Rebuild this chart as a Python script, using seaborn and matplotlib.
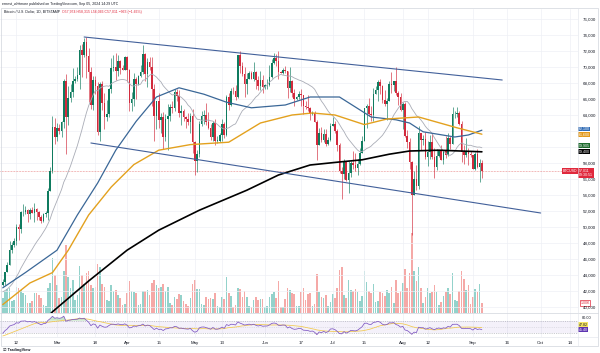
import numpy as np
import pandas as pd
import matplotlib
matplotlib.use("Agg")
import matplotlib.pyplot as plt
import matplotlib.dates as mdates
import matplotlib.transforms as mtransforms
from matplotlib.patches import Rectangle
from matplotlib.lines import Line2D
import seaborn as sns

sns.set_theme(style="white")
plt.rcParams['font.family'] = ['Liberation Sans', 'DejaVu Sans']

# ---------------- data (BTC/USD daily, Bitstamp) ----------------
warmup_close = [42740, 41260, 41620, 41680, 41570, 39530, 39850, 40080, 39940, 41820,
                42120, 42030, 43300, 42940, 42580, 43080, 43190, 43000, 42580, 42700]

feb_close = [43090, 44340, 45290, 47130, 47770, 48290, 49950, 49720, 51830, 51930, 52150, 51660,
             52120, 51780, 52270, 51850, 51300, 50740, 51570, 51730, 54480, 57060, 62500, 61200]
feb_high = [43490, 44380, 45600, 48200, 48150, 48590, 50350, 50370, 52040, 52820, 52570, 52200,
            52360, 52480, 52970, 52360, 52040, 51540, 51690, 51950, 54880, 57550, 63900, 63600]
feb_low = [42580, 42780, 44330, 45250, 46800, 47560, 47710, 48370, 49300, 51320, 51580, 50630,
           51010, 51710, 50620, 50840, 50930, 50540, 50590, 51300, 50900, 54450, 56700, 60400]

mar_close = [62420, 62050, 63140, 68300, 63800, 66100, 66900, 68300, 68500, 69000, 72100, 71480,
             73100, 71400, 69400, 65300, 68400, 67600, 61900, 67900, 65500, 63800, 64100, 67200,
             69900, 69980, 69450, 70780, 69900, 69660, 71300]
mar_high = [62980, 62900, 63230, 68500, 69170, 67600, 67900, 69900, 68900, 70000, 72800, 72900,
            73650, 73800, 72400, 70000, 68900, 68900, 68100, 68100, 68200, 66700, 65900, 67400,
            71100, 71500, 71700, 71500, 70900, 70300, 71350]
mar_low = [60800, 61600, 61300, 62400, 59100, 62800, 65600, 66200, 68000, 68200, 67200, 68800,
           71300, 68600, 65600, 64800, 64600, 66600, 61500, 60800, 64600, 62300, 63300, 63800,
           66700, 69500, 68400, 68900, 69100, 69600, 69600]

apr_close = [69650, 65480, 65980, 68500, 67840, 68900, 69360, 71620, 69140, 70580, 70060, 67190,
             63820, 65740, 63420, 63810, 61280, 63470, 63820, 64990, 64930, 66840, 66410, 64280,
             64500, 63770, 63460, 63120, 63860, 60640]
apr_high = [71400, 69700, 66900, 69300, 68700, 69000, 70300, 72700, 71700, 71100, 71250, 71200,
            67900, 65800, 66800, 64300, 64400, 64100, 65400, 65400, 65700, 67200, 67200, 67100,
            65300, 64800, 63900, 64300, 64200, 64700]
apr_low = [68100, 64500, 64500, 65100, 66000, 67800, 68800, 69100, 68200, 67500, 69600, 65100,
           60800, 62200, 62400, 61700, 59800, 60800, 59600, 63200, 64300, 64500, 65800, 63800,
           62800, 63300, 62400, 62800, 61800, 59200]

may_close = [58250, 59120, 62890, 63890, 64030, 63160, 62330, 61190, 63050, 60790, 60790, 61450,
             62900, 61550, 66270, 65230, 67050, 66940, 66270, 71450, 70140, 69120, 67930, 68520,
             69290, 68510, 69390, 68360, 67610, 68360, 67490]
may_high = [60800, 59600, 63300, 64500, 64650, 65500, 64400, 62900, 63250, 63450, 61400, 61800,
            63450, 63100, 66450, 66750, 67400, 67450, 67700, 71500, 71950, 70650, 70050, 69200,
            69550, 69500, 70600, 69550, 68900, 69500, 69000]
may_low = [56500, 56900, 58800, 62600, 62900, 62700, 62300, 60900, 60700, 60200, 60500, 60650,
           60800, 61150, 61350, 64600, 65100, 66650, 65900, 66100, 69200, 68900, 66300, 66600,
           68500, 68450, 68250, 67300, 67150, 67150, 66700]

jun_close = [67710, 67750, 68800, 70560, 71080, 70760, 69340, 69300, 69650, 69510, 67320, 68240,
             66750, 66010, 66190, 66640, 66490, 65150, 64960, 64830, 64100, 64250, 63180, 60280,
             61800, 60860, 61680, 60320, 60890, 62680]
jun_high = [67850, 68450, 70250, 71050, 71750, 71600, 71950, 69550, 69850, 70150, 69550, 69980,
            68400, 67300, 66400, 66950, 67250, 66100, 65700, 66450, 65050, 64500, 64500, 63350,
            62350, 62450, 62300, 62200, 61200, 63000]
jun_low = [67300, 67300, 67600, 68600, 70400, 70150, 68500, 69200, 69150, 69250, 66100, 66900,
           66300, 65100, 65900, 66000, 65100, 64100, 64700, 64500, 63400, 63950, 63150, 58400,
           60250, 60650, 60600, 60150, 60300, 60700]

jul_close = [62850, 62030, 60200, 57050, 56660, 58230, 55850, 56710, 58040, 57720, 57340, 57900,
             59230, 60790, 64870, 65100, 64100, 63990, 66680, 67150, 68170, 67580, 65930, 65370,
             65800, 67910, 67810, 68250, 66780, 66200, 64630]
jul_high = [63800, 63250, 62300, 60500, 57500, 58450, 58300, 58200, 58300, 59450, 59300, 58550,
            59850, 61400, 64900, 65400, 66100, 65100, 67400, 67650, 68350, 68450, 67800, 67100,
            66150, 68200, 69400, 68300, 70000, 66950, 66800]
jul_low = [62600, 61800, 59450, 56800, 53500, 56050, 55750, 54300, 56300, 57200, 57000, 56550,
           57800, 59250, 60700, 62400, 63900, 63250, 63300, 66600, 65800, 66600, 65450, 65100,
           63400, 65800, 66700, 67050, 66500, 65300, 64550]

aug_close = [65360, 61420, 60680, 58110, 54020, 56040, 55130, 61710, 60880, 60940, 58710, 59350,
             60600, 58740, 57560, 58880, 59490, 58430, 59480, 59000, 61160, 60380, 64090, 64180,
             64250, 62830, 59420, 59030, 59370, 59120, 58970]
aug_high = [65600, 65650, 62150, 61100, 58300, 57050, 57750, 62600, 61750, 61450, 61850, 60700,
            61550, 61750, 59850, 59800, 59650, 60250, 59600, 61400, 61800, 61400, 64950, 64500,
            65000, 64450, 63200, 60200, 61150, 59900, 59450]
aug_low = [62300, 61200, 59900, 57200, 49050, 53950, 54600, 54750, 59650, 60300, 58450, 57650,
           58500, 58450, 56150, 57100, 58800, 58400, 57850, 58600, 58900, 59800, 60350, 63600,
           63800, 62800, 58100, 57850, 58800, 57700, 58750]

sep_close = [57310, 59130, 57480, 57974, 57011]
sep_high = [59050, 59400, 59800, 58500, 58315]
sep_low = [57200, 57150, 57400, 55600, 56066]

# volume, thousands of BTC
feb_vol = [1.5, 2.2, 2.4, 2.5, 1.2, 1.3, 2.6, 2.5, 2.3, 2.0, 1.8, 1.0, 1.0, 1.2, 2.0, 2.0, 1.8, 1.5,
           0.8, 0.7, 2.5, 3.0, 5.5, 3.8]
mar_vol = [2.8, 1.5, 1.6, 4.2, 6.8, 3.6, 2.5, 3.3, 1.3, 1.8, 4.7, 3.8, 2.9, 4.0, 4.2, 2.8, 2.5, 2.6,
           4.9, 4.6, 2.9, 2.6, 1.3, 1.2, 2.8, 2.2, 2.3, 1.8, 1.5, 0.8, 0.9]
apr_vol = [2.0, 3.2, 2.2, 2.1, 2.0, 0.8, 0.9, 2.2, 2.2, 2.3, 1.8, 3.0, 3.3, 2.8, 2.5, 2.6, 2.9, 2.2,
           2.6, 1.0, 0.8, 1.6, 1.4, 1.9, 1.8, 1.2, 0.9, 0.7, 1.5, 2.9]
may_vol = [3.3, 2.4, 2.4, 0.9, 0.8, 1.6, 1.4, 1.5, 1.4, 2.0, 0.7, 0.6, 1.6, 1.4, 3.6, 2.0, 1.7, 0.6,
           0.8, 2.5, 2.4, 1.6, 2.2, 1.6, 0.7, 0.6, 1.3, 1.6, 1.3, 1.4, 1.4]
jun_vol = [0.6, 0.7, 1.6, 1.9, 2.1, 1.5, 3.2, 0.6, 0.6, 1.4, 2.5, 2.3, 2.0, 1.9, 0.7, 0.7, 2.1, 2.5,
           1.3, 1.9, 2.0, 0.7, 0.9, 3.9, 2.1, 1.6, 1.5, 1.8, 0.7, 1.1]
jul_vol = [1.9, 1.5, 2.5, 4.3, 4.6, 1.8, 1.5, 3.3, 2.3, 2.2, 2.4, 2.1, 1.2, 1.7, 4.2, 3.1, 2.2, 2.0,
           2.9, 1.1, 1.2, 2.1, 2.0, 1.7, 2.3, 2.0, 2.6, 1.0, 3.3, 2.0, 2.2]
aug_vol = [3.0, 4.4, 2.5, 4.0, 8.0, 4.2, 3.2, 4.6, 2.5, 1.0, 1.6, 2.5, 2.0, 2.1, 2.8, 2.1, 0.8, 1.1,
           1.7, 2.1, 2.5, 1.9, 4.0, 1.3, 1.2, 2.2, 4.2, 3.4, 2.3, 2.8, 0.9]
sep_vol = [1.6, 2.4, 2.1, 2.9, 1.0]

# moving averages
ma_blue_dates = ["2024-02-06", "2024-02-16", "2024-03-01", "2024-03-10", "2024-03-19", "2024-03-27",
                 "2024-04-05", "2024-04-14", "2024-04-24", "2024-05-05", "2024-05-15", "2024-05-26",
                 "2024-06-10", "2024-06-21", "2024-07-04", "2024-07-18", "2024-07-29", "2024-08-04",
                 "2024-08-10", "2024-08-24", "2024-08-30", "2024-09-05"]
ma_blue = [42400, 44300, 47100, 51500, 55500, 59600, 63200, 66250, 67400, 66600, 65600, 64900,
           65250, 66250, 66250, 63750, 63400, 63000, 61900, 61250, 61500, 62100]

ma_orange_dates = ["2024-02-06", "2024-02-18", "2024-02-28", "2024-03-06", "2024-03-15", "2024-03-25",
                   "2024-04-04", "2024-04-15", "2024-04-29", "2024-05-16", "2024-05-30", "2024-06-13",
                   "2024-06-22", "2024-07-02", "2024-07-15", "2024-07-25", "2024-08-08", "2024-08-25",
                   "2024-09-05"]
ma_orange = [40300, 43000, 44300, 47100, 51500, 55000, 57800, 59600, 60300, 60600, 63000, 64000,
             64250, 64000, 62800, 63500, 63750, 62400, 61600]

ma_black_dates = ["2024-02-18", "2024-02-28", "2024-03-15", "2024-04-01", "2024-04-15", "2024-05-03",
                  "2024-05-24", "2024-06-07", "2024-06-21", "2024-07-03", "2024-07-14", "2024-07-26",
                  "2024-08-04", "2024-08-17", "2024-09-05"]
ma_black = [36500, 39400, 43250, 47100, 49600, 52100, 54600, 56500, 57750, 58100, 58400, 59100,
            59500, 59600, 59400]

channel_top_dates = ["2024-03-13", "2024-09-14"]
channel_top = [73750, 68375]
channel_bot_dates = ["2024-03-16", "2024-10-01"]
channel_bot = [60500, 51750]

tick_dates = ["2024-02-12", "2024-03-01", "2024-03-18", "2024-04-01", "2024-04-15", "2024-05-01",
              "2024-05-13", "2024-06-01", "2024-06-17", "2024-07-01", "2024-07-15", "2024-08-01",
              "2024-08-12", "2024-09-01", "2024-09-16", "2024-10-01", "2024-10-14"]
tick_labels = ["12", "Mar", "18", "Apr", "15", "May", "13", "Jun", "17", "Jul", "15", "Aug",
               "12", "Sep", "16", "Oct", "14"]
price_ticks = list(range(40000, 76001, 2000))
price_ticks_hidden = [60000, 62000]   # covered by the indicator value boxes on the scale

rsi_labels = ["45.40", "47.82"]
title_main = "Bitcoin / U.S. Dollar, 1D, BITSTAMP"
title_ohlc = "O57,974 H58,315 L56,066 C57,011 \u2212963 (\u22121.66%)"
attribution = "ernest_whitmore published on TradingView.com, Sep 05, 2024 14:29 UTC"

# ---------------- assemble ----------------
close = np.array(feb_close + mar_close + apr_close + may_close + jun_close + jul_close + aug_close + sep_close, float)
high = np.array(feb_high + mar_high + apr_high + may_high + jun_high + jul_high + aug_high + sep_high, float)
low = np.array(feb_low + mar_low + apr_low + may_low + jun_low + jul_low + aug_low + sep_low, float)
vol = np.array(feb_vol + mar_vol + apr_vol + may_vol + jun_vol + jul_vol + aug_vol + sep_vol, float)
dates = pd.date_range("2024-02-06", periods=len(close), freq="D")
warm_dates = pd.date_range("2024-01-17", periods=len(warmup_close), freq="D")
all_close = pd.Series(warmup_close + list(close), index=warm_dates.append(dates), dtype=float)
opens = all_close.shift(1).loc[dates].values
xd = mdates.date2num(dates)

sma20 = all_close.rolling(20).mean().loc[dates]
delta = all_close.diff()
gain = delta.clip(lower=0).ewm(alpha=1 / 14, adjust=False).mean()
loss = (-delta.clip(upper=0)).ewm(alpha=1 / 14, adjust=False).mean()
rsi_all = 100 - 100 / (1 + gain / loss)
rsi = rsi_all.loc[dates]
rsi_ma = rsi_all.rolling(14).mean().loc[dates]

UP, DN = "#0f7b5f", "#d22a3c"
VUP, VDN = "#93d2cb", "#f5a9a7"

W, H = 600, 353
def rect(x0, y0, x1, y1):
    return [x0 / W, 1 - y1 / H, (x1 - x0) / W, (y1 - y0) / H]

fig = plt.figure(figsize=(6.0, 3.53), dpi=100, facecolor="white")
M = mdates.date2num(pd.Timestamp("2024-03-01"))
xlim = (M - 25.22, M + 230.53)
YLIM = (39250, 77250)

axv = fig.add_axes(rect(0, 9, 578, 313))
ax = fig.add_axes(rect(0, 9, 578, 313), facecolor="none")
axr = fig.add_axes(rect(0, 313, 578, 337))

for a in (ax, axv, axr):
    a.set_xlim(*xlim)
    for s in a.spines.values():
        s.set_visible(False)

# volume
axv.bar(xd, vol, width=0.72, color=np.where(close >= opens, VUP, VDN), linewidth=0, zorder=1)
axv.set_ylim(0, 30.4)
axv.set_yticks([]); axv.set_xticks([])

# grid on main
ax.set_ylim(*YLIM)
ax.set_yticks(price_ticks)
ax.set_xticks(mdates.date2num(pd.to_datetime(tick_dates)))
ax.set_xticklabels([])
ax.grid(True, color="#eef0f5", lw=0.5)
ax.tick_params(axis="x", length=0)
ax.yaxis.tick_right()
ax.set_yticklabels(["" if p in price_ticks_hidden else f"{p:,}" for p in price_ticks])
ax.tick_params(axis="y", length=0, pad=3.2, labelsize=3.2, labelcolor="#131722")

# candles
col = np.where(close >= opens, UP, DN)
ax.vlines(xd, low, high, colors=col, lw=0.45, zorder=3)
body_lo = np.minimum(opens, close)
body_h = np.maximum(np.abs(close - opens), 70)
ax.bar(xd, body_h, bottom=body_lo, width=0.72, color=col, linewidth=0, zorder=4)

# moving averages
def dn(lst):
    return mdates.date2num(pd.to_datetime(lst))

sns.lineplot(x=xd, y=sma20.values, ax=ax, color="#a9acb6", lw=0.6, zorder=5)
sns.lineplot(x=dn(ma_blue_dates), y=ma_blue, ax=ax, color="#3a6797", lw=0.9, zorder=5)
sns.lineplot(x=dn(ma_orange_dates), y=ma_orange, ax=ax, color="#e3a11e", lw=1.0, zorder=5)
sns.lineplot(x=dn(ma_black_dates), y=ma_black, ax=ax, color="#000000", lw=1.2, zorder=6)
sns.lineplot(x=dn(channel_top_dates), y=channel_top, ax=ax, color="#42609a", lw=0.8, zorder=6)
sns.lineplot(x=dn(channel_bot_dates), y=channel_bot, ax=ax, color="#42609a", lw=0.8, zorder=6)
ax.axhline(close[-1], color="#e57373", lw=0.5, ls=(0, (1, 1.2)), zorder=2)
ax.set_xlim(*xlim); ax.set_ylim(*YLIM)
ax.set_xlabel(""); ax.set_ylabel("")

# right-side value labels (stacked like the price scale does)
tr = mtransforms.blended_transform_factory(ax.transAxes, ax.transData)
def box(a, t, yv, txt, fc, tc="white", ec="none", x=1.0015, fs=2.6, pad=0.12):
    a.text(x, yv, txt, transform=t, ha="left", va="center", fontsize=fs, color=tc,
           clip_on=False, zorder=20,
           bbox=dict(boxstyle=f"square,pad={pad}", fc=fc, ec=ec, lw=0.4))

def price_at_px(ypx):
    # inverse of the axes mapping, used only to stack labels without overlap
    return YLIM[1] - (ypx - 9) / (313 - 9) * (YLIM[1] - YLIM[0])

box(ax, tr, price_at_px(129), f"{ma_blue[-1]:,}", "#2f6bb5")
box(ax, tr, price_at_px(134.8), f"{ma_orange[-1]:,}", "#e39a1c")
box(ax, tr, price_at_px(145.2), f"{sma20.values[-1]:,.0f}", "#1e6b2e")
box(ax, tr, price_at_px(151.2), f"{ma_black[-1]:,}", "#000000")
ax.text(1.0015, close[-1] - 250, f"{close[-1]:,.0f}\n09:30:51", transform=tr, ha="left", va="center",
        fontsize=2.6, color="white", clip_on=False, zorder=21, linespacing=1.0,
        bbox=dict(boxstyle="square,pad=0.2", fc="#e0283c", ec="none"))
ax.text(0.998, close[-1], "BTCUSD", transform=tr, ha="right", va="center", fontsize=2.6,
        color="white", clip_on=False, zorder=21,
        bbox=dict(boxstyle="square,pad=0.2", fc="#e0283c", ec="none"))
trv = mtransforms.blended_transform_factory(axv.transAxes, axv.transData)
axv.text(1.004, vol[-1], f"{vol[-1]:.2f}K", transform=trv, ha="left", va="center", fontsize=2.6,
         color="#e0283c", clip_on=False, zorder=21,
         bbox=dict(boxstyle="square,pad=0.2", fc="white", ec="#e0283c", lw=0.5))

# RSI panel
axr.set_ylim(18.25, 94.4)
axr.axhspan(30, 70, color="#7e57c2", alpha=0.08, lw=0)
for lv in (70, 50, 30):
    axr.axhline(lv, color="#9598a1", lw=0.4, ls=(0, (2, 2)), alpha=0.9 if lv != 50 else 0.4)
sns.lineplot(x=xd, y=rsi.values, ax=axr, color="#7e57c2", lw=0.55, zorder=4)
sns.lineplot(x=xd, y=rsi_ma.values, ax=axr, color="#f2c94c", lw=0.55, zorder=3)
axr.fill_between(xd, rsi.values, 70, where=rsi.values > 70, color="#66bb6a", alpha=0.35, lw=0, interpolate=True)
axr.fill_between(xd, rsi.values, 30, where=rsi.values < 30, color="#ef5350", alpha=0.35, lw=0, interpolate=True)
axr.set_xlim(*xlim)
axr.set_yticks([])
axr.set_xticks(mdates.date2num(pd.to_datetime(tick_dates)))
axr.set_xticklabels(tick_labels)
axr.tick_params(axis="x", length=0, pad=3.0, labelsize=3.2, labelcolor="#131722")
axr.grid(True, axis="x", color="#eef0f5", lw=0.5)
axr.set_xlabel(""); axr.set_ylabel("")
trr = mtransforms.blended_transform_factory(axr.transAxes, axr.transData)
axr.text(1.006, 80, "80.00", transform=trr, ha="left", va="center", fontsize=2.8, color="#131722", clip_on=False)
box(axr, trr, float(rsi.values[-1]) + 16, rsi_labels[1], "#f5e663", tc="#131722", fs=2.6)
box(axr, trr, float(rsi.values[-1]), rsi_labels[0], "#5e35b1", fs=2.6)

# frame and separators
fig.add_artist(Rectangle((0.5 / W, 1 - 346 / H), 597.5 / W, 338 / H, transform=fig.transFigure,
                         fill=False, ec="#d1d4dc", lw=0.5))
fig.add_artist(Line2D([0, 598 / W], [1 - 313 / H] * 2, transform=fig.transFigure, color="#d1d4dc", lw=0.5))
fig.add_artist(Line2D([0, 598 / W], [1 - 337 / H] * 2, transform=fig.transFigure, color="#e0e3eb", lw=0.4))
fig.add_artist(Line2D([578 / W] * 2, [1 - 346 / H, 1 - 8 / H], transform=fig.transFigure, color="#e0e3eb", lw=0.4))

# texts
fig.text(2 / W, 1 - 4 / H, attribution, fontsize=2.5, color="#131722", va="center", ha="left")
t1 = fig.text(4 / W, 1 - 12 / H, title_main, fontsize=2.5, color="#131722", va="center", ha="left")
fig.canvas.draw()
bb = t1.get_window_extent()
fig.text((bb.x1 + 2) / W, 1 - 12 / H, title_ohlc, fontsize=2.5, color="#e0283c", va="center", ha="left")
fig.text(3 / W, 1 - 350 / H, "\u2611 TradingView", fontsize=2.8, color="#131722", va="center", ha="left",
         fontweight="bold")

fig.savefig("out.png", dpi=100, facecolor="white")
